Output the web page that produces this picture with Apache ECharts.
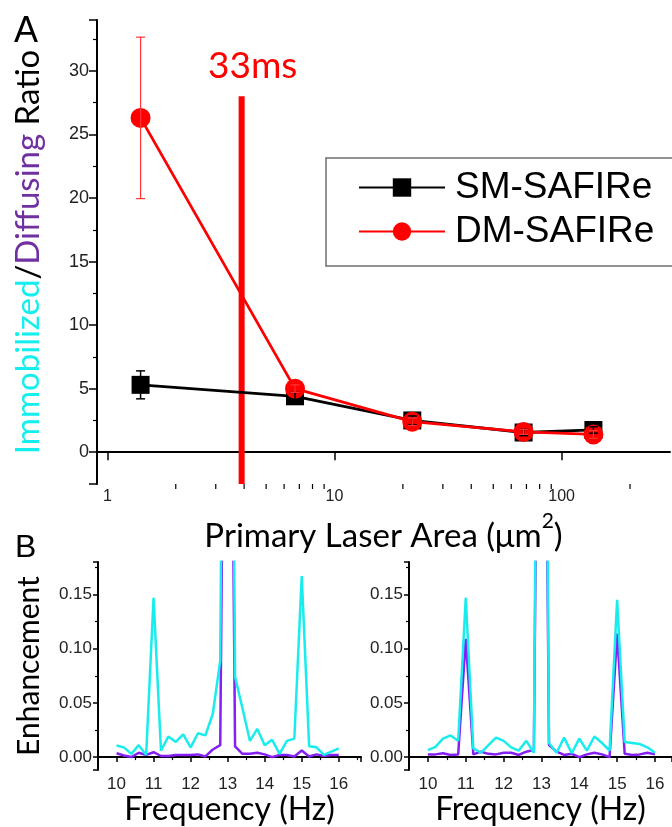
<!DOCTYPE html>
<html>
<head>
<meta charset="utf-8">
<script src="https://cdn.jsdelivr.net/npm/echarts@6/dist/echarts.min.js"></script>
<style>html,body{margin:0;padding:0;background:#fff;}#c{width:672px;height:827px;}</style>
</head>
<body>
<div id="c"></div>
<script>
// ---- Panel A data ----
const areaX = [1.4, 6.7, 22, 68, 138];
const smRatio = [5.3, 4.4, 2.5, 1.55, 1.75];
const smErr = [1.1, 0.3, 0.35, 0.25, 0.25];
const dmRatio = [26.3, 5.0, 2.4, 1.6, 1.4];
const dmErr = [6.35, 0.3, 0.3, 0.2, 0.3];
const markerX = 3.9;          // 33 ms position
const markerTop = 28;
const logMinorTicks = [2, 3, 4, 5, 6, 7, 8, 9, 20, 30, 40, 50, 60, 70, 80, 90, 200];
const seriesNames = ['SM-SAFIRe', 'DM-SAFIRe'];

// ---- Panel B data ----
const freq = [10.0, 10.2, 10.4, 10.6, 10.8, 11.0, 11.2, 11.4, 11.6, 11.8, 12.0, 12.2, 12.4, 12.6, 12.8, 13.0,
              13.2, 13.4, 13.6, 13.8, 14.0, 14.2, 14.4, 14.6, 14.8, 15.0, 15.2, 15.4, 15.6, 15.8, 16.0];
const leftCyan = [0.0107, 0.009, 0.003, 0.011, 0.002, 0.147, 0.006, 0.019, 0.014, 0.021, 0.009, 0.022, 0.020, 0.040, 0.089, 1.0,
                  0.074, 0.045, 0.015, 0.026, 0.011, 0.016, 0.003, 0.015, 0.017, 0.167, 0.010, 0.009, 0.002, 0.005, 0.008];
const leftPurple = [0.0036, 0.0015, 0.0, 0.004, 0.002, 0.0045, 0.001, 0.001, 0.002, 0.002, 0.002, 0.0025, 0.0006, 0.007, 0.011, 0.8,
                    0.010, 0.003, 0.003, 0.004, 0.0025, 0.0, 0.002, 0.002, 0.0006, 0.006, 0.0006, 0.0025, 0.001, 0.002, 0.002];
const rightCyan = [0.0065, 0.0095, 0.017, 0.020, 0.015, 0.147, 0.008, 0.004, 0.011, 0.018, 0.015, 0.009, 0.006, 0.015, 0.004, 1.0,
                   0.013, 0.004, 0.018, 0.0035, 0.017, 0.006, 0.019, 0.013, 0.006, 0.145, 0.014, 0.013, 0.012, 0.009, 0.004];
const rightPurple = [0.0025, 0.0025, 0.0035, 0.002, 0.0025, 0.109, 0.0025, 0.005, 0.003, 0.0025, 0.004, 0.004, 0.002, 0.005, 0.0065, 0.8,
                     0.011, 0.005, 0.002, 0.003, 0.0, 0.0025, 0.004, 0.0025, 0.0, 0.114, 0.003, 0.002, 0.0025, 0.004, 0.0025];

const CYAN = '#19ECEC', PURPLE = '#8420F5', RED = '#FF0000';
const TICKFONT = 'Liberation Sans, Arial, sans-serif';
const TITLEFONT = 'Lato, Open Sans, sans-serif';

function pairs(xs, ys) { return xs.map((x, i) => [x, ys[i]]); }
function errData(xs, ys, es) { return xs.map((x, i) => [x, ys[i] - es[i], ys[i] + es[i]]); }

function errRender(color, width, cap) {
  return function (params, api) {
    const x = api.value(0);
    const p1 = api.coord([x, api.value(1)]);
    const p2 = api.coord([x, api.value(2)]);
    const st = { stroke: color, lineWidth: width };
    return {
      type: 'group', children: [
        { type: 'line', shape: { x1: p1[0], y1: p1[1], x2: p2[0], y2: p2[1] }, style: st },
        { type: 'line', shape: { x1: p1[0] - cap, y1: p1[1], x2: p1[0] + cap, y2: p1[1] }, style: st },
        { type: 'line', shape: { x1: p2[0] - cap, y1: p2[1], x2: p2[0] + cap, y2: p2[1] }, style: st }
      ]
    };
  };
}

const bXAxis = (gi) => ({
  type: 'value', gridIndex: gi, min: 9.5, max: gi === 1 ? 16.6 : 16.45, splitNumber: 7,
  axisLine: { lineStyle: { color: '#000', width: 2 } },
  axisTick: { inside: false, length: 5, lineStyle: { color: '#000', width: 1.5 } },
  minorTick: { show: true, splitNumber: 2, length: 3, lineStyle: { color: '#000', width: 1.2 } },
  splitLine: { show: false },
  axisLabel: { showMinLabel: false, showMaxLabel: false, fontFamily: TICKFONT, fontSize: 17, color: '#222', margin: 6 },
  name: 'Frequency (Hz)', nameLocation: 'middle', nameGap: 14,
  nameTextStyle: { fontFamily: TITLEFONT, fontSize: 32, color: '#000' }
});
const bYAxis = (gi, withName) => ({
  type: 'value', gridIndex: gi, min: -0.012, max: 0.18, splitNumber: 4,
  axisLine: { show: true, lineStyle: { color: '#000', width: 2 } },
  axisTick: { show: true, inside: false, length: 5, lineStyle: { color: '#000', width: 1.5 } },
  minorTick: { show: true, splitNumber: 2, length: 3, lineStyle: { color: '#000', width: 1.2 } },
  splitLine: { show: false },
  axisLabel: { showMinLabel: false, showMaxLabel: false, fontFamily: TICKFONT, fontSize: 17, color: '#222', margin: 6,
               formatter: v => v.toFixed(2) },
  name: withName ? 'Enhancement' : '', nameLocation: 'middle', nameGap: 54, nameRotate: 90,
  nameTextStyle: { fontFamily: TITLEFONT, fontSize: 30, color: '#000' }
});

const option = {
  animation: false,
  backgroundColor: '#fff',
  grid: [
    { left: 97, top: 20, right: 2, bottom: 343 },
    { left: 98, top: 562, right: 311, bottom: 51 },
    { left: 409, top: 562, right: 0, bottom: 51 }
  ],
  xAxis: [
    {
      type: 'log', logBase: 10, gridIndex: 0, min: 0.9, max: 300,
      axisLine: { lineStyle: { color: '#000', width: 2 } },
      axisTick: { inside: false, length: 8, lineStyle: { color: '#000', width: 1.5 } },
      splitLine: { show: false },
      axisLabel: { showMinLabel: false, showMaxLabel: false, fontFamily: TICKFONT, fontSize: 16, color: '#222', margin: 5 },
      name: '{n|Primary Laser Area (μm}{s|2}{n|)}', nameLocation: 'middle', nameGap: 27,
      nameTextStyle: {
        rich: {
          n: { fontFamily: TITLEFONT, fontSize: 33, color: '#000', lineHeight: 42, verticalAlign: 'bottom' },
          s: { fontFamily: TITLEFONT, fontSize: 21, color: '#000', lineHeight: 42, verticalAlign: 'top' }
        }
      }
    },
    bXAxis(1), bXAxis(2)
  ],
  yAxis: [
    {
      type: 'value', gridIndex: 0, min: -2.5, max: 34, splitNumber: 7,
      axisLine: { show: true, lineStyle: { color: '#000', width: 2 } },
      axisTick: { show: true, inside: false, length: 8, lineStyle: { color: '#000', width: 1.5 } },
      minorTick: { show: true, splitNumber: 2, length: 4, lineStyle: { color: '#000', width: 1.2 } },
      splitLine: { show: false },
      axisLabel: { showMinLabel: false, showMaxLabel: false, fontFamily: TICKFONT, fontSize: 18, color: '#222', margin: 8 },
      name: '{c|Immobilized}{k|/}{p|Diffusing}{k| Ratio}', nameLocation: 'middle', nameRotate: 90, nameGap: 52,
      nameTextStyle: {
        rich: {
          c: { fontFamily: TITLEFONT, fontSize: 33, color: '#13EEEE' },
          k: { fontFamily: TITLEFONT, fontSize: 33, color: '#000' },
          p: { fontFamily: TITLEFONT, fontSize: 33, color: '#7030A0' }
        }
      }
    },
    bYAxis(1, true), bYAxis(2, false)
  ],
  legend: {
    orient: 'vertical', left: 326, top: 158,
    padding: [11, 60, 16, 32], itemWidth: 86, itemHeight: 23, itemGap: 7,
    borderColor: '#6e6e6e', borderWidth: 1.5,
    textStyle: { fontFamily: TICKFONT, fontSize: 37, color: '#000', padding: [0, 0, 0, 5] },
    data: seriesNames
  },
  graphic: [
    { type: 'text', left: 14, top: 14, style: { text: 'A', font: '36px Liberation Sans, Arial, sans-serif', fill: '#000' } },
    { type: 'text', left: 15, top: 532, style: { text: 'B', font: '32px Liberation Sans, Arial, sans-serif', fill: '#000' } },
    { type: 'text', left: 208, top: 48, style: { text: '33ms', font: '37px Lato, Open Sans, sans-serif', fill: RED } }
  ],
  series: [
    {
      type: 'line', xAxisIndex: 0, yAxisIndex: 0, data: [[markerX, -2.5], [markerX, markerTop]],
      symbol: 'none', lineStyle: { color: RED, width: 6 }, z: 1, silent: true
    },
    {
      name: seriesNames[0], type: 'line', xAxisIndex: 0, yAxisIndex: 0, data: pairs(areaX, smRatio),
      symbol: 'rect', symbolSize: 18, itemStyle: { color: '#000' }, lineStyle: { color: '#000', width: 2.8 }, z: 3
    },
    {
      name: seriesNames[1], type: 'line', xAxisIndex: 0, yAxisIndex: 0, data: pairs(areaX, dmRatio),
      symbol: 'circle', symbolSize: 20, itemStyle: { color: RED }, lineStyle: { color: RED, width: 2.8 }, z: 4
    },
    {
      type: 'custom', xAxisIndex: 0, yAxisIndex: 0, data: errData(areaX, smRatio, smErr),
      renderItem: errRender('#000', 1.5, 4.5), z: 6, silent: true
    },
    {
      type: 'custom', xAxisIndex: 0, yAxisIndex: 0, data: errData(areaX, dmRatio, dmErr),
      renderItem: errRender('#FF3333', 1.2, 4.5), z: 6, silent: true
    },
    {
      type: 'custom', xAxisIndex: 0, yAxisIndex: 0, data: logMinorTicks.map(v => [v]), silent: true, clip: false,
      renderItem: function (params, api) {
        const cs = params.coordSys;
        const x = api.coord([api.value(0), 1])[0];
        const yb = cs.y + cs.height;
        return { type: 'line', shape: { x1: x, y1: yb, x2: x, y2: yb + 5 }, style: { stroke: '#000', lineWidth: 1.2 } };
      }
    },
    { type: 'line', xAxisIndex: 1, yAxisIndex: 1, data: pairs(freq, leftPurple), symbol: 'none',
      lineStyle: { color: PURPLE, width: 2.5 }, z: 2 },
    { type: 'line', xAxisIndex: 1, yAxisIndex: 1, data: pairs(freq, leftCyan), symbol: 'none',
      lineStyle: { color: CYAN, width: 2.5 }, z: 3 },
    { type: 'line', xAxisIndex: 2, yAxisIndex: 2, data: pairs(freq, rightPurple), symbol: 'none',
      lineStyle: { color: PURPLE, width: 2.5 }, z: 2 },
    { type: 'line', xAxisIndex: 2, yAxisIndex: 2, data: pairs(freq, rightCyan), symbol: 'none',
      lineStyle: { color: CYAN, width: 2.5 }, z: 3 }
  ]
};
const chart = echarts.init(document.getElementById('c'), null, { renderer: 'canvas' });
chart.setOption(option);
</script>
</body>
</html>
